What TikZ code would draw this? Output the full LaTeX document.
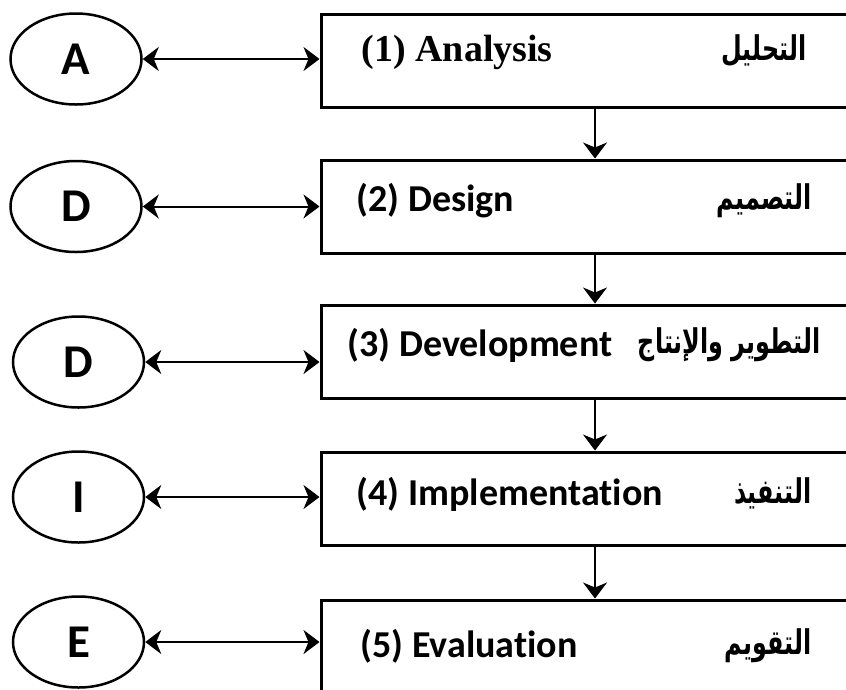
\documentclass[tikz,border=0pt]{standalone}
\usepackage{fontspec}
\setmainfont{Carlito}[Ligatures=NoCommon]
\newfontfamily\arabicfont[Script=Arabic,FakeStretch=0.7]{DejaVu Sans}
\newfontfamily\timesfont{Liberation Serif}
\TeXXeTstate=1
\usetikzlibrary{arrows.meta,calc,positioning,shapes.geometric}

\begin{document}
\begin{tikzpicture}[
  x=1pt, y=-1pt,
  > = {Stealth[length=16pt,width=24pt,inset=5pt]},
  stage/.style = {draw,line width=3pt,minimum width=548pt,minimum height=93pt,inner sep=0pt},
  letter/.style = {draw,ellipse,line width=2.5pt,minimum width=131pt,minimum height=91pt,inner sep=0pt,
    font=\fontsize{47}{47}\selectfont\bfseries},
  entxt/.style = {anchor=west,inner sep=0pt,font=\fontsize{38}{40}\selectfont\bfseries},
  artxt/.style = {anchor=east,inner sep=0pt,font=\arabicfont\fontsize{34}{38}\selectfont\bfseries},
  link/.style = {line width=2pt}
  ]
	\clip (0,0) rectangle (846,689);

	\node[stage] (@1) at (595,60.5) {};
	\node[stage] (@2) at (595,206.5) {};
	\node[stage] (@3) at (595,351.5) {};
	\node[stage] (@4) at (595,498.5) {};
	\node[stage] (@5) at (595,646.5) {};

	\node[entxt] (en1) at ($(@1.north west)+(42,40)$) {\timesfont (1) Analysis};
	\node[entxt] (en2) at ($(@2.north west)+(37,42)$) {(2) Design};
	\node[entxt] (en3) at ($(@3.north west)+(28,42)$) {(3) Development};
	\node[entxt] (en4) at ($(@4.north west)+(37,44)$) {(4) Implementation};
	\node[entxt] (en5) at ($(@5.north west)+(41,48)$) {(5) Evaluation};

	\node[artxt] (ar1) at ($(@1.north west)+(487,38)$) {\beginR التحليل\endR};
	\node[artxt] (ar2) at ($(@2.north west)+(492,42)$) {\beginR التصميم\endR};
	\node[artxt] (ar3) at ($(@3.north west)+(501,41)$) {\beginR التطوير والإنتاج\endR};
	\node[artxt] (ar4) at ($(@4.north west)+(492,43)$) {\beginR التنفيذ\endR};
	\node[artxt] (ar5) at ($(@5.north west)+(492,47)$) {\beginR التقويم\endR};

	\node[letter] (l1) at (76,59) {A};
	\node[letter] (l2) at (76,206.5) {D};
	\node[letter] (l3) at (78.5,362) {D};
	\node[letter] (l4) at (78.5,497) {I};
	\node[letter] (l5) at (78.5,642) {E};

	\draw[link,<->] (l1.east) -- (l1.east -| @1.west);
	\draw[link,<->] (l2.east) -- (l2.east -| @2.west);
	\draw[link,<->] (l3.east) -- (l3.east -| @3.west);
	\draw[link,<->] (l4.east) -- (l4.east -| @4.west);
	\draw[link,<->] (l5.east) -- (l5.east -| @5.west);

	\draw[link,->] (@1.south) -- (@2.north);
	\draw[link,->] (@2.south) -- (@3.north);
	\draw[link,->] (@3.south) -- (@4.north);
	\draw[link,->] (@4.south) -- (@5.north);

\end{tikzpicture}
\end{document}
